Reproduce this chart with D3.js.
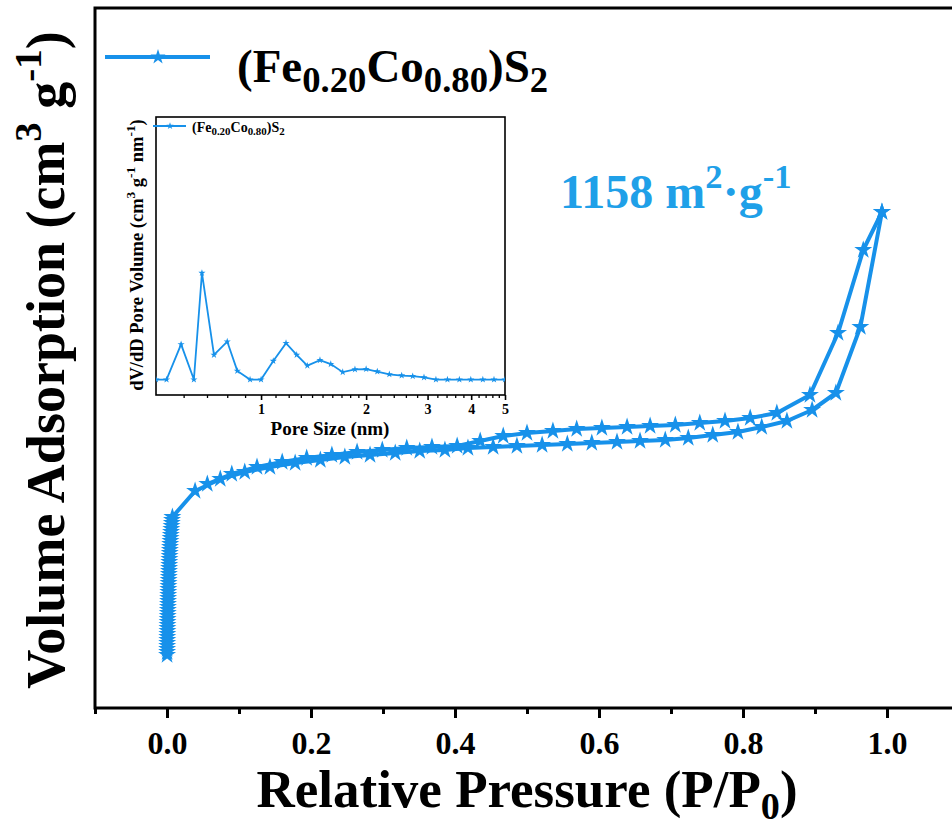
<!DOCTYPE html>
<html>
<head>
<meta charset="utf-8">
<script src="https://cdn.jsdelivr.net/npm/d3@7"></script>
<style>
  body { margin: 0; background: #fff; }
  text { font-family: "Liberation Serif", "Times New Roman", serif; font-weight: bold; }
</style>
</head>
<body>
<div id="chart"></div>
<script>
// isotherm, adsorption branch (P/P0, volume)
const adsP = [0.0001, 0.0002, 0.0002, 0.0003, 0.0003, 0.0004, 0.0004, 0.0005, 0.0006, 0.0006, 0.0007, 0.0008,
              0.0009, 0.0010, 0.0011, 0.0012, 0.0013, 0.0014, 0.0015, 0.0016, 0.0017, 0.0018, 0.0019, 0.0020,
              0.0022, 0.0023, 0.0025, 0.0026, 0.0028, 0.0029, 0.0031, 0.0032, 0.0034, 0.0036, 0.0038, 0.0040,
              0.0042, 0.0045, 0.0048, 0.0050, 0.0053, 0.0056, 0.0060, 0.0063, 0.0067, 0.0070, 0.0075,
              0.039, 0.074, 0.108, 0.143, 0.178, 0.213, 0.247, 0.282, 0.317, 0.351, 0.386, 0.418, 0.453,
              0.486, 0.521, 0.556, 0.590, 0.625, 0.657, 0.692, 0.724, 0.758, 0.793, 0.826, 0.861, 0.896,
              0.929, 0.963, 0.993];
const adsV = [53, 56, 59, 62, 65, 68, 71, 74, 77, 80, 83, 86,
              89, 92, 95, 98, 101, 104, 107, 110, 113, 116, 119, 122,
              125, 128, 131, 134, 137, 140, 143, 146, 149, 152, 155, 158,
              161, 164, 167, 170, 173, 176, 179, 182, 185, 188, 191,
              217, 229, 236, 241, 245, 248, 251, 253, 255, 257, 258, 260, 261,
              262, 263, 264, 265, 266, 267, 268, 270, 273, 276, 281, 287, 298,
              315, 381, 496];
// desorption branch
const desP = [0.993, 0.967, 0.932, 0.893, 0.847, 0.810, 0.775, 0.740, 0.706, 0.671, 0.639, 0.604,
              0.569, 0.536, 0.500, 0.467, 0.435, 0.403, 0.368, 0.333, 0.299, 0.264, 0.229, 0.194,
              0.160, 0.125, 0.090, 0.056];
const desV = [496, 458, 375, 313, 295, 290, 287, 285, 283, 282, 281, 280,
              279, 277, 275, 272, 267, 262, 261, 260, 258, 256, 253, 250,
              246, 241, 234, 224];
// inset: pore size distribution
const poreD = [0.5, 0.536, 0.590, 0.642, 0.677, 0.733, 0.800, 0.855, 0.930, 1.0, 1.084, 1.179, 1.265,
               1.357, 1.475, 1.584, 1.714, 1.858, 2.0, 2.153, 2.331, 2.529, 2.72, 2.93, 3.17,
               3.42, 3.70, 3.99, 4.32, 4.65, 5.0];
const poreDV = [0, 0, 0.0114, 0, 0.0345, 0.0080, 0.0123, 0.0028, 0, 0, 0.0060, 0.0118, 0.0080,
                0.0045, 0.0063, 0.0050, 0.0024, 0.0033, 0.0034, 0.0026, 0.0017, 0.0013, 0.0011, 0.0007, 0,
                0, 0, 0, 0, 0, 0];

const xTicks = [0, 0.2, 0.4, 0.6, 0.8, 1.0];
const xMinor = [-0.1, 0.1, 0.3, 0.5, 0.7, 0.9, 1.1];
const insetTicks = [1, 2, 3, 4, 5];
const insetMinor = [0.6, 0.7, 0.8, 0.9, 1.1, 1.2, 1.3, 1.4, 1.5, 1.6, 1.7, 1.8, 1.9,
                    2.2, 2.4, 2.6, 2.8, 3.2, 3.4, 3.6, 3.8, 4.2, 4.4, 4.6, 4.8];

const blue = "#1791ea";
const W = 952, H = 829;

const svg = d3.select("#chart").append("svg").attr("width", W).attr("height", H);

// text with sub / superscripts
function rich(sel, parts, size, scale) {
    scale = scale || 0.72;
    let cur = 0;
    parts.forEach(([t, k]) => {
        const off = k === "sub" ? size * 0.22 : k === "sup" ? -size * 0.42 : 0;
        sel.append("tspan").attr("dy", off - cur).attr("font-size", k ? size * scale : size).text(t);
        cur = off;
    });
    return sel;
}

const x = d3.scaleLinear().domain([-0.1, 1.1]).range([95, 959]);
const y = d3.scaleLinear().domain([0, 700]).range([708, 8]);

svg.append("rect").attr("x", 95).attr("y", 8).attr("width", 864).attr("height", 700)
    .attr("fill", "none").attr("stroke", "#000").attr("stroke-width", 3);

const gx = svg.append("g").attr("transform", "translate(0,708)")
    .call(d3.axisBottom(x).tickValues(xTicks).tickSize(10).tickPadding(13).tickFormat(d3.format(".1f")));
gx.select(".domain").remove();
gx.selectAll("line").attr("stroke-width", 3);
gx.selectAll("text").attr("font-size", 32).attr("fill", "#000");

const gxm = svg.append("g").attr("transform", "translate(0,708)")
    .call(d3.axisBottom(x).tickValues(xMinor).tickSize(6).tickFormat(""));
gxm.select(".domain").remove();
gxm.selectAll("line").attr("stroke-width", 3);

// axis titles
rich(svg.append("text").attr("x", 527).attr("y", 807).attr("text-anchor", "middle"),
    [["Relative Pressure (P/P"], ["0", "sub"], [")"]], 53, 0.72);

rich(svg.append("text").attr("transform", "translate(64,360) rotate(-90)").attr("text-anchor", "middle"),
    [["Volume Adsorption (cm"], ["3", "sup"], [" g"], ["-1", "sup"], [")"]], 54, 0.72);

// isotherm
const ads = adsP.map((p, i) => ({p: p, v: adsV[i]}));
const des = desP.map((p, i) => ({p: p, v: desV[i]}));
const line = d3.line().x(d => x(d.p)).y(d => y(d.v));
const star = d3.symbol().type(d3.symbolStar).size(100);

[ads, des].forEach(s => {
    svg.append("path").datum(s).attr("d", line)
        .attr("fill", "none").attr("stroke", blue).attr("stroke-width", 4).attr("stroke-linejoin", "round");
});
[ads, des].forEach(s => {
    svg.append("g").selectAll("path").data(s).join("path")
        .attr("d", star).attr("transform", d => `translate(${x(d.p)},${y(d.v)})`)
        .attr("fill", blue);
});

// legend
svg.append("line").attr("x1", 105).attr("x2", 210).attr("y1", 57).attr("y2", 57)
    .attr("stroke", blue).attr("stroke-width", 4);
svg.append("path").attr("d", d3.symbol().type(d3.symbolStar).size(70)).attr("transform", "translate(158,57)").attr("fill", blue);
rich(svg.append("text").attr("x", 237).attr("y", 82),
    [["(Fe"], ["0.20", "sub"], ["Co"], ["0.80", "sub"], [")S"], ["2", "sub"]], 47, 0.78);

// surface area
rich(svg.append("text").attr("x", 560).attr("y", 208).attr("fill", "#1fa0e8"),
    [["1158 m"], ["2", "sup"], ["·g"], ["-1", "sup"]], 48, 0.72);

// inset
const ix = d3.scaleLog().domain([0.5, 5]).range([156, 505]);
const iy = d3.scaleLinear().domain([-0.005, 0.085]).range([395, 117]);

svg.append("rect").attr("x", 156).attr("y", 117).attr("width", 349).attr("height", 278)
    .attr("fill", "#fff").attr("stroke", "#000").attr("stroke-width", 1.6);

const gi = svg.append("g").attr("transform", "translate(0,395)")
    .call(d3.axisBottom(ix).tickValues(insetTicks).tickSize(5).tickPadding(4).tickFormat(d3.format("d")));
gi.select(".domain").remove();
gi.selectAll("line").attr("stroke-width", 1.6);
gi.selectAll("text").attr("font-size", 14).attr("fill", "#000");
const gim = svg.append("g").attr("transform", "translate(0,395)")
    .call(d3.axisBottom(ix).tickValues(insetMinor).tickSize(3).tickFormat(""));
gim.select(".domain").remove();
gim.selectAll("line").attr("stroke-width", 1.3);

svg.append("clipPath").attr("id", "ic").append("rect")
    .attr("x", 156).attr("y", 117).attr("width", 349).attr("height", 278);
const pore = poreD.map((d, i) => ({d: d, v: poreDV[i]}));
const ig = svg.append("g").attr("clip-path", "url(#ic)");
ig.append("path").datum(pore)
    .attr("d", d3.line().x(d => ix(d.d)).y(d => iy(d.v)))
    .attr("fill", "none").attr("stroke", blue).attr("stroke-width", 1.8);
ig.selectAll(".m").data(pore).join("path")
    .attr("d", d3.symbol().type(d3.symbolStar).size(16))
    .attr("transform", d => `translate(${ix(d.d)},${iy(d.v)})`).attr("fill", blue);

svg.append("line").attr("x1", 153).attr("x2", 186).attr("y1", 126).attr("y2", 126)
    .attr("stroke", blue).attr("stroke-width", 1.8);
svg.append("path").attr("d", d3.symbol().type(d3.symbolStar).size(16)).attr("transform", "translate(170,126)").attr("fill", blue);
rich(svg.append("text").attr("x", 192).attr("y", 132),
    [["(Fe"], ["0.20", "sub"], ["Co"], ["0.80", "sub"], [")S"], ["2", "sub"]], 14, 0.78);

svg.append("text").attr("x", 330).attr("y", 435).attr("text-anchor", "middle").attr("font-size", 19)
    .text("Pore Size (nm)");
rich(svg.append("text").attr("transform", "translate(143,255) rotate(-90)").attr("text-anchor", "middle"),
    [["dV/dD Pore Volume (cm"], ["3", "sup"], [" g"], ["-1", "sup"], [" nm"], ["-1", "sup"], [")"]], 18.5, 0.72);
</script>
</body>
</html>
